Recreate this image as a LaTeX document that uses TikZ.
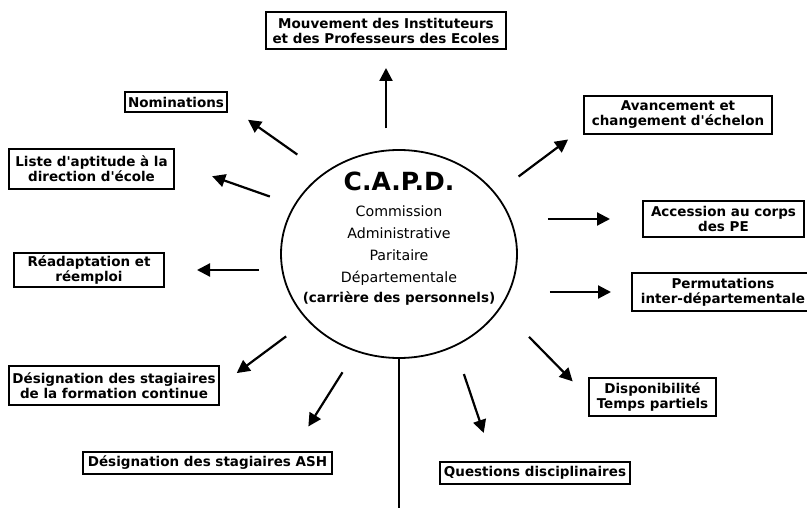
\documentclass[tikz,border=0pt]{standalone}
\usepackage{fontspec}
\setmainfont{DejaVu Sans}
\usetikzlibrary{arrows.meta,shapes.geometric}

\tikzset{
  boite/.style = {draw, line width = 2pt, align = center, inner sep = 0pt,
    font = \bfseries\fontsize{13.5}{15}\selectfont},
  fleche/.style = {-{Triangle[length = 13pt, width = 13pt]}, line width = 2.2pt},
}
\newcommand{\apos}{\textquotesingle}

\begin{document}
\begin{tikzpicture}[x = 1pt, y = -1pt]
  \useasboundingbox (0, 0) rectangle (807, 508);

  % commission
  % ----------
  \node [draw, ellipse, line width = 1.8pt, minimum width = 236pt,
    minimum height = 208pt, inner sep = 0pt] (capd) at (399, 254) {};
  \node [align = center, font = \fontsize{14.2}{22}\selectfont] (capdtxt) at (399, 238.5)
    {{\bfseries\fontsize{25}{28}\selectfont C.A.P.D.}\\[4pt]
     Commission\\
     Administrative\\
     Paritaire\\
     Départementale\\[-2pt]
     {\bfseries\fontsize{13.5}{15}\selectfont (carrière des personnels)}};
  \coordinate (bas) at (399, 510);

  % boxes
  % -----
  \node [boite, minimum width = 240pt, minimum height = 37pt] (mouv) at (386, 30.5)
    {Mouvement des Instituteurs\\et des Professeurs des Ecoles};
  \node [boite, minimum width = 102pt, minimum height = 20pt] (nomin) at (176, 102)
    {Nominations};
  \node [boite, minimum width = 165pt, minimum height = 40pt] (liste) at (91.5, 169)
    {Liste d\apos{}aptitude à la\\direction d\apos{}école};
  \node [boite, minimum width = 150pt, minimum height = 34pt] (readapt) at (89, 270)
    {Réadaptation et\\réemploi};
  \node [boite, minimum width = 210pt, minimum height = 39pt] (formcont) at (114, 385.5)
    {Désignation des stagiaires\\de la formation continue};
  \node [boite, minimum width = 249pt, minimum height = 22pt] (ash) at (207.5, 463)
    {Désignation des stagiaires ASH};
  \node [boite, minimum width = 188pt, minimum height = 38pt] (avanc) at (678, 115)
    {Avancement et\\changement d\apos{}échelon};
  \node [boite, minimum width = 161pt, minimum height = 36pt] (access) at (723.5, 219)
    {Accession au corps\\des PE};
  \node [boite, minimum width = 182pt, minimum height = 37pt] (permut) at (723, 292)
    {Permutations\\inter-départementale};
  \node [boite, minimum width = 127pt, minimum height = 38pt] (dispo) at (652.5, 397)
    {Disponibilité\\Temps partiels};
  \node [boite, minimum width = 190pt, minimum height = 22pt] (quest) at (535, 473)
    {Questions disciplinaires};

  % arrows
  % ------
  \draw [fleche, shorten <= 20.6pt, shorten >= 18pt] (capd.north -| mouv.south) -- (mouv.south);
  \draw [fleche, shorten <= 32pt, shorten >= 24.5pt] (capd.133) -- (nomin.-4);
  \draw [fleche, shorten <= 25.5pt, shorten >= 39.4pt] (capd.155.7) -- (liste.4);
  \draw [fleche, shorten <= 21pt, shorten >= 32pt] (capd.west |- readapt.east) -- (readapt.east);
  \draw [fleche, shorten <= 26.3pt, shorten >= 20.8pt] (capd.216.4) -- (formcont.east);
  \draw [fleche, shorten <= 24.4pt, shorten >= 29pt] (capd.246.3) -- (ash.8);
  \draw [fleche, shorten <= 28.2pt, shorten >= 18.6pt] (capd.32.8) -- (avanc.188);
  \draw [fleche, shorten <= 30pt, shorten >= 32pt] (capd.east |- access.west) -- (access.west);
  \draw [fleche, shorten <= 32pt, shorten >= 20pt] (capd.east |- permut.west) -- (permut.west);
  \draw [fleche, shorten <= 40.2pt, shorten >= 21.9pt] (capd.-28.7) -- (dispo.west);
  \draw [fleche, shorten <= 28.9pt, shorten >= 29.6pt] (capd.-59.9) -- (quest.164.6);
  \draw [line width = 2pt] (capd.south) -- (bas);
\end{tikzpicture}
\end{document}
